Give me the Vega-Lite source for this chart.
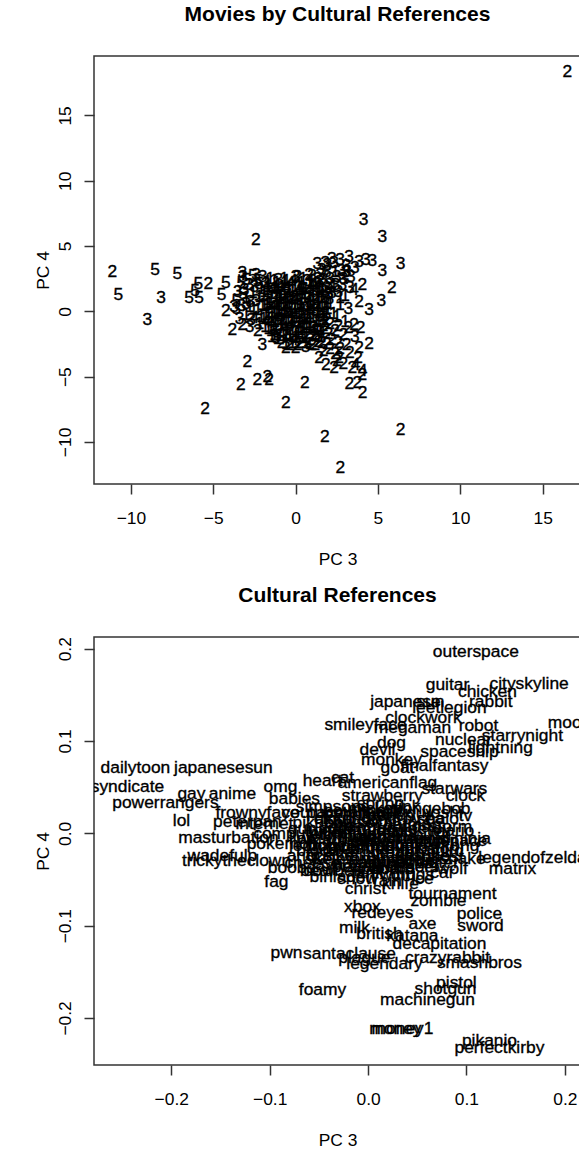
{
  "$schema": "https://vega.github.io/schema/vega-lite/v6.json",
  "background": "white",
  "padding": {"left": 33, "top": 3, "right": 0, "bottom": 0},
  "config": {
    "font": "Liberation Sans",
    "view": {"stroke": "#333333", "strokeWidth": 1.5},
    "concat": {"spacing": 14},
    "title": {"font": "Liberation Sans", "fontSize": 21, "fontWeight": "bold", "color": "black", "baseline": "alphabetic", "offset": 31, "anchor": "middle"},
    "axis": {"grid": false, "domain": false, "ticks": true, "tickSize": 10, "tickColor": "#333333", "tickWidth": 1.5, "labelFont": "Liberation Sans", "labelFontSize": 17.4, "labelColor": "black", "labelFlush": false, "labelOverlap": false, "titleFont": "Liberation Sans", "titleFontSize": 17.4, "titleFontWeight": "normal", "titleColor": "black"},
    "axisX": {"labelBaseline": "alphabetic", "labelPadding": 29, "titleBaseline": "alphabetic", "titleY": 80},
    "axisY": {"labelAngle": -90, "labelAlign": "center", "labelBaseline": "alphabetic", "labelPadding": 14, "titleAngle": -90, "titleBaseline": "alphabetic", "titleX": -46}
  },
  "vconcat": [
    {
      "title": "Movies by Cultural References",
      "width": 487,
      "height": 428,
      "data": {"values": [
        {"pc3":16.5,"pc4":18.32,"cluster":"2"},
        {"pc3":4.13,"pc4":7.0,"cluster":"3"},
        {"pc3":5.27,"pc4":5.66,"cluster":"3"},
        {"pc3":-2.42,"pc4":5.45,"cluster":"2"},
        {"pc3":6.38,"pc4":3.6,"cluster":"3"},
        {"pc3":5.27,"pc4":3.1,"cluster":"3"},
        {"pc3":5.84,"pc4":1.76,"cluster":"2"},
        {"pc3":5.21,"pc4":0.79,"cluster":"3"},
        {"pc3":4.46,"pc4":0.1,"cluster":"3"},
        {"pc3":3.55,"pc4":1.63,"cluster":"4"},
        {"pc3":4.06,"pc4":2.0,"cluster":"2"},
        {"pc3":3.25,"pc4":4.18,"cluster":"3"},
        {"pc3":3.86,"pc4":3.8,"cluster":"3"},
        {"pc3":4.26,"pc4":3.9,"cluster":"3"},
        {"pc3":4.66,"pc4":3.85,"cluster":"3"},
        {"pc3":3.04,"pc4":3.04,"cluster":"3"},
        {"pc3":3.35,"pc4":2.65,"cluster":"3"},
        {"pc3":2.43,"pc4":2.0,"cluster":"3"},
        {"pc3":2.84,"pc4":2.0,"cluster":"3"},
        {"pc3":2.34,"pc4":3.67,"cluster":"3"},
        {"pc3":1.93,"pc4":3.54,"cluster":"3"},
        {"pc3":1.32,"pc4":3.6,"cluster":"3"},
        {"pc3":3.86,"pc4":0.74,"cluster":"2"},
        {"pc3":0.11,"pc4":2.65,"cluster":"2"},
        {"pc3":0.82,"pc4":2.78,"cluster":"2"},
        {"pc3":-11.12,"pc4":3.04,"cluster":"2"},
        {"pc3":-10.76,"pc4":1.25,"cluster":"5"},
        {"pc3":-8.53,"pc4":3.2,"cluster":"5"},
        {"pc3":-7.18,"pc4":2.83,"cluster":"5"},
        {"pc3":-8.17,"pc4":1.0,"cluster":"3"},
        {"pc3":-5.9,"pc4":2.07,"cluster":"5"},
        {"pc3":-5.3,"pc4":2.07,"cluster":"2"},
        {"pc3":-6.47,"pc4":1.0,"cluster":"5"},
        {"pc3":-5.86,"pc4":1.0,"cluster":"5"},
        {"pc3":-6.1,"pc4":1.55,"cluster":"5"},
        {"pc3":-4.24,"pc4":2.2,"cluster":"5"},
        {"pc3":-4.49,"pc4":1.25,"cluster":"5"},
        {"pc3":-3.23,"pc4":2.9,"cluster":"3"},
        {"pc3":-3.2,"pc4":2.6,"cluster":"3"},
        {"pc3":-2.22,"pc4":2.07,"cluster":"5"},
        {"pc3":-4.24,"pc4":0.0,"cluster":"2"},
        {"pc3":-3.73,"pc4":0.36,"cluster":"3"},
        {"pc3":-9.0,"pc4":-0.7,"cluster":"3"},
        {"pc3":-3.84,"pc4":-1.43,"cluster":"2"},
        {"pc3":-3.23,"pc4":-1.05,"cluster":"2"},
        {"pc3":-2.02,"pc4":-2.58,"cluster":"3"},
        {"pc3":-2.93,"pc4":-3.85,"cluster":"2"},
        {"pc3":-3.33,"pc4":-5.64,"cluster":"2"},
        {"pc3":-2.32,"pc4":-5.26,"cluster":"2"},
        {"pc3":-1.71,"pc4":-5.0,"cluster":"2"},
        {"pc3":-1.61,"pc4":-5.26,"cluster":"2"},
        {"pc3":-5.5,"pc4":-7.45,"cluster":"2"},
        {"pc3":0.56,"pc4":-5.47,"cluster":"2"},
        {"pc3":-0.6,"pc4":-7.0,"cluster":"2"},
        {"pc3":1.78,"pc4":-9.59,"cluster":"2"},
        {"pc3":6.37,"pc4":-9.08,"cluster":"2"},
        {"pc3":2.71,"pc4":-12.01,"cluster":"2"},
        {"pc3":3.26,"pc4":-5.57,"cluster":"2"},
        {"pc3":3.75,"pc4":-5.5,"cluster":"2"},
        {"pc3":4.06,"pc4":-4.87,"cluster":"2"},
        {"pc3":4.07,"pc4":-6.25,"cluster":"2"},
        {"pc3":4.07,"pc4":-4.6,"cluster":"4"},
        {"pc3":4.46,"pc4":-2.52,"cluster":"2"},
        {"pc3":3.86,"pc4":-2.83,"cluster":"2"},
        {"pc3":3.55,"pc4":-1.05,"cluster":"2"},
        {"pc3":3.95,"pc4":-1.3,"cluster":"2"},
        {"pc3":1.43,"pc4":-3.6,"cluster":"2"},
        {"pc3":1.83,"pc4":-4.1,"cluster":"2"},
        {"pc3":2.34,"pc4":-4.36,"cluster":"2"},
        {"pc3":2.64,"pc4":-3.6,"cluster":"2"},
        {"pc3":3.45,"pc4":-4.36,"cluster":"2"},
        {"pc3":3.65,"pc4":-4.1,"cluster":"4"},
        {"pc3":0.0,"pc4":-2.83,"cluster":"2"},
        {"pc3":-0.6,"pc4":-2.83,"cluster":"2"},
        {"pc3":-1.2,"pc4":-2.07,"cluster":"3"},
        {"pc3":-1.8,"pc4":2.1,"cluster":"3"},
        {"pc3":-1.3,"pc4":2.3,"cluster":"1"},
        {"pc3":-0.8,"pc4":1.9,"cluster":"1"},
        {"pc3":-0.3,"pc4":2.2,"cluster":"4"},
        {"pc3":0.2,"pc4":2.0,"cluster":"1"},
        {"pc3":0.7,"pc4":2.3,"cluster":"3"},
        {"pc3":1.2,"pc4":2.1,"cluster":"1"},
        {"pc3":1.7,"pc4":2.4,"cluster":"3"},
        {"pc3":-1.9,"pc4":1.5,"cluster":"1"},
        {"pc3":-1.4,"pc4":1.7,"cluster":"4"},
        {"pc3":-0.9,"pc4":1.4,"cluster":"1"},
        {"pc3":-0.4,"pc4":1.6,"cluster":"1"},
        {"pc3":0.1,"pc4":1.5,"cluster":"4"},
        {"pc3":0.6,"pc4":1.7,"cluster":"1"},
        {"pc3":1.1,"pc4":1.5,"cluster":"3"},
        {"pc3":1.6,"pc4":1.6,"cluster":"1"},
        {"pc3":-1.7,"pc4":0.9,"cluster":"1"},
        {"pc3":-1.2,"pc4":1.1,"cluster":"1"},
        {"pc3":-0.7,"pc4":0.8,"cluster":"4"},
        {"pc3":-0.2,"pc4":1.0,"cluster":"1"},
        {"pc3":0.3,"pc4":0.9,"cluster":"1"},
        {"pc3":0.8,"pc4":1.1,"cluster":"1"},
        {"pc3":1.3,"pc4":0.8,"cluster":"4"},
        {"pc3":1.8,"pc4":1.0,"cluster":"3"},
        {"pc3":-1.9,"pc4":0.4,"cluster":"1"},
        {"pc3":-1.4,"pc4":0.3,"cluster":"4"},
        {"pc3":-0.9,"pc4":0.5,"cluster":"1"},
        {"pc3":-0.4,"pc4":0.3,"cluster":"1"},
        {"pc3":0.1,"pc4":0.5,"cluster":"1"},
        {"pc3":0.6,"pc4":0.2,"cluster":"4"},
        {"pc3":1.1,"pc4":0.4,"cluster":"1"},
        {"pc3":1.6,"pc4":0.3,"cluster":"1"},
        {"pc3":-1.8,"pc4":-0.3,"cluster":"1"},
        {"pc3":-1.3,"pc4":-0.1,"cluster":"1"},
        {"pc3":-0.8,"pc4":-0.3,"cluster":"4"},
        {"pc3":-0.3,"pc4":-0.1,"cluster":"1"},
        {"pc3":0.2,"pc4":-0.2,"cluster":"1"},
        {"pc3":0.7,"pc4":-0.4,"cluster":"1"},
        {"pc3":1.2,"pc4":-0.1,"cluster":"4"},
        {"pc3":1.7,"pc4":-0.3,"cluster":"1"},
        {"pc3":-1.6,"pc4":-0.9,"cluster":"4"},
        {"pc3":-1.1,"pc4":-0.7,"cluster":"1"},
        {"pc3":-0.6,"pc4":-0.9,"cluster":"1"},
        {"pc3":-0.1,"pc4":-0.8,"cluster":"1"},
        {"pc3":0.4,"pc4":-0.7,"cluster":"4"},
        {"pc3":0.9,"pc4":-0.9,"cluster":"1"},
        {"pc3":1.4,"pc4":-0.8,"cluster":"1"},
        {"pc3":1.9,"pc4":-0.7,"cluster":"2"},
        {"pc3":-1.5,"pc4":-1.5,"cluster":"1"},
        {"pc3":-1.0,"pc4":-1.3,"cluster":"4"},
        {"pc3":-0.5,"pc4":-1.4,"cluster":"1"},
        {"pc3":0.0,"pc4":-1.6,"cluster":"1"},
        {"pc3":0.5,"pc4":-1.3,"cluster":"1"},
        {"pc3":1.0,"pc4":-1.5,"cluster":"4"},
        {"pc3":1.5,"pc4":-1.4,"cluster":"1"},
        {"pc3":-1.1,"pc4":-2.1,"cluster":"1"},
        {"pc3":-0.6,"pc4":-1.9,"cluster":"1"},
        {"pc3":-0.1,"pc4":-2.2,"cluster":"4"},
        {"pc3":0.4,"pc4":-2.0,"cluster":"1"},
        {"pc3":0.9,"pc4":-2.2,"cluster":"2"},
        {"pc3":1.4,"pc4":-2.0,"cluster":"1"},
        {"pc3":-0.4,"pc4":-2.6,"cluster":"2"},
        {"pc3":0.6,"pc4":-2.7,"cluster":"3"},
        {"pc3":1.2,"pc4":-2.6,"cluster":"2"},
        {"pc3":-0.5,"pc4":0.6,"cluster":"1"},
        {"pc3":0.4,"pc4":1.3,"cluster":"1"},
        {"pc3":-1.0,"pc4":0.0,"cluster":"1"},
        {"pc3":0.9,"pc4":0.6,"cluster":"1"},
        {"pc3":-0.2,"pc4":-0.5,"cluster":"1"},
        {"pc3":0.3,"pc4":-1.1,"cluster":"4"},
        {"pc3":-1.2,"pc4":1.8,"cluster":"1"},
        {"pc3":1.4,"pc4":1.9,"cluster":"1"},
        {"pc3":0.0,"pc4":2.6,"cluster":"3"},
        {"pc3":-0.7,"pc4":2.5,"cluster":"1"},
        {"pc3":1.0,"pc4":2.7,"cluster":"3"},
        {"pc3":1.5,"pc4":2.8,"cluster":"3"},
        {"pc3":2.0,"pc4":2.0,"cluster":"3"},
        {"pc3":2.2,"pc4":1.4,"cluster":"3"},
        {"pc3":2.1,"pc4":0.6,"cluster":"1"},
        {"pc3":2.3,"pc4":-0.2,"cluster":"1"},
        {"pc3":2.1,"pc4":-1.0,"cluster":"2"},
        {"pc3":2.0,"pc4":-1.7,"cluster":"2"},
        {"pc3":-1.55,"pc4":2.45,"cluster":"1"},
        {"pc3":-1.05,"pc4":2.4,"cluster":"3"},
        {"pc3":-0.55,"pc4":2.35,"cluster":"1"},
        {"pc3":0.45,"pc4":2.45,"cluster":"1"},
        {"pc3":0.95,"pc4":2.25,"cluster":"1"},
        {"pc3":1.35,"pc4":2.5,"cluster":"3"},
        {"pc3":-1.65,"pc4":1.85,"cluster":"1"},
        {"pc3":-1.05,"pc4":1.95,"cluster":"1"},
        {"pc3":-0.55,"pc4":1.8,"cluster":"4"},
        {"pc3":-0.05,"pc4":1.9,"cluster":"1"},
        {"pc3":0.45,"pc4":1.85,"cluster":"1"},
        {"pc3":0.95,"pc4":1.9,"cluster":"4"},
        {"pc3":1.45,"pc4":1.75,"cluster":"1"},
        {"pc3":1.9,"pc4":1.8,"cluster":"3"},
        {"pc3":-1.95,"pc4":1.2,"cluster":"1"},
        {"pc3":-1.45,"pc4":1.3,"cluster":"1"},
        {"pc3":-0.95,"pc4":1.15,"cluster":"1"},
        {"pc3":-0.45,"pc4":1.25,"cluster":"4"},
        {"pc3":0.05,"pc4":1.2,"cluster":"1"},
        {"pc3":0.55,"pc4":1.35,"cluster":"1"},
        {"pc3":1.05,"pc4":1.2,"cluster":"1"},
        {"pc3":1.55,"pc4":1.25,"cluster":"4"},
        {"pc3":2.0,"pc4":1.3,"cluster":"3"},
        {"pc3":-1.6,"pc4":0.65,"cluster":"1"},
        {"pc3":-1.15,"pc4":0.7,"cluster":"1"},
        {"pc3":-0.65,"pc4":0.55,"cluster":"1"},
        {"pc3":-0.15,"pc4":0.7,"cluster":"4"},
        {"pc3":0.35,"pc4":0.6,"cluster":"1"},
        {"pc3":0.85,"pc4":0.75,"cluster":"1"},
        {"pc3":1.35,"pc4":0.6,"cluster":"1"},
        {"pc3":1.85,"pc4":0.65,"cluster":"1"},
        {"pc3":-1.55,"pc4":0.05,"cluster":"4"},
        {"pc3":-1.05,"pc4":0.15,"cluster":"1"},
        {"pc3":-0.55,"pc4":0.05,"cluster":"1"},
        {"pc3":-0.05,"pc4":0.2,"cluster":"1"},
        {"pc3":0.45,"pc4":0.1,"cluster":"1"},
        {"pc3":0.95,"pc4":0.0,"cluster":"4"},
        {"pc3":1.45,"pc4":0.1,"cluster":"1"},
        {"pc3":1.95,"pc4":0.15,"cluster":"1"},
        {"pc3":-1.95,"pc4":-0.6,"cluster":"1"},
        {"pc3":-1.45,"pc4":-0.5,"cluster":"1"},
        {"pc3":-0.95,"pc4":-0.55,"cluster":"4"},
        {"pc3":-0.45,"pc4":-0.6,"cluster":"1"},
        {"pc3":0.05,"pc4":-0.45,"cluster":"1"},
        {"pc3":0.55,"pc4":-0.6,"cluster":"1"},
        {"pc3":1.05,"pc4":-0.5,"cluster":"1"},
        {"pc3":1.55,"pc4":-0.55,"cluster":"4"},
        {"pc3":-1.85,"pc4":-1.2,"cluster":"1"},
        {"pc3":-1.35,"pc4":-1.1,"cluster":"1"},
        {"pc3":-0.85,"pc4":-1.05,"cluster":"1"},
        {"pc3":-0.35,"pc4":-1.15,"cluster":"4"},
        {"pc3":0.15,"pc4":-1.3,"cluster":"1"},
        {"pc3":0.65,"pc4":-1.05,"cluster":"1"},
        {"pc3":1.15,"pc4":-1.2,"cluster":"1"},
        {"pc3":1.7,"pc4":-1.1,"cluster":"2"},
        {"pc3":-1.3,"pc4":-1.8,"cluster":"1"},
        {"pc3":-0.85,"pc4":-1.7,"cluster":"4"},
        {"pc3":-0.35,"pc4":-1.8,"cluster":"1"},
        {"pc3":0.15,"pc4":-1.75,"cluster":"1"},
        {"pc3":0.65,"pc4":-1.7,"cluster":"1"},
        {"pc3":1.15,"pc4":-1.8,"cluster":"2"},
        {"pc3":1.65,"pc4":-1.65,"cluster":"1"},
        {"pc3":-0.85,"pc4":-2.4,"cluster":"2"},
        {"pc3":-0.2,"pc4":-2.4,"cluster":"1"},
        {"pc3":0.3,"pc4":-2.45,"cluster":"2"},
        {"pc3":0.85,"pc4":-2.5,"cluster":"1"},
        {"pc3":1.4,"pc4":-2.35,"cluster":"2"},
        {"pc3":-1.7,"pc4":2.25,"cluster":"1"},
        {"pc3":-1.15,"pc4":2.15,"cluster":"1"},
        {"pc3":-0.65,"pc4":2.2,"cluster":"1"},
        {"pc3":-0.15,"pc4":2.3,"cluster":"4"},
        {"pc3":0.35,"pc4":2.2,"cluster":"1"},
        {"pc3":0.85,"pc4":2.1,"cluster":"1"},
        {"pc3":1.45,"pc4":2.25,"cluster":"3"},
        {"pc3":-1.75,"pc4":1.6,"cluster":"1"},
        {"pc3":-1.2,"pc4":1.55,"cluster":"4"},
        {"pc3":-0.7,"pc4":1.65,"cluster":"1"},
        {"pc3":-0.2,"pc4":1.55,"cluster":"1"},
        {"pc3":0.3,"pc4":1.65,"cluster":"1"},
        {"pc3":0.8,"pc4":1.55,"cluster":"4"},
        {"pc3":1.3,"pc4":1.6,"cluster":"1"},
        {"pc3":1.8,"pc4":1.5,"cluster":"3"},
        {"pc3":-1.5,"pc4":1.0,"cluster":"1"},
        {"pc3":-1.0,"pc4":0.95,"cluster":"1"},
        {"pc3":-0.5,"pc4":1.05,"cluster":"1"},
        {"pc3":0.0,"pc4":0.95,"cluster":"4"},
        {"pc3":0.55,"pc4":1.0,"cluster":"1"},
        {"pc3":1.05,"pc4":0.9,"cluster":"1"},
        {"pc3":1.55,"pc4":1.05,"cluster":"1"},
        {"pc3":2.05,"pc4":0.95,"cluster":"3"},
        {"pc3":-1.75,"pc4":0.45,"cluster":"1"},
        {"pc3":-1.25,"pc4":0.5,"cluster":"4"},
        {"pc3":-0.75,"pc4":0.4,"cluster":"1"},
        {"pc3":-0.25,"pc4":0.45,"cluster":"1"},
        {"pc3":0.25,"pc4":0.35,"cluster":"1"},
        {"pc3":0.75,"pc4":0.5,"cluster":"1"},
        {"pc3":1.25,"pc4":0.4,"cluster":"4"},
        {"pc3":1.75,"pc4":0.5,"cluster":"1"},
        {"pc3":-1.65,"pc4":-0.15,"cluster":"1"},
        {"pc3":-1.15,"pc4":-0.2,"cluster":"1"},
        {"pc3":-0.65,"pc4":-0.1,"cluster":"1"},
        {"pc3":-0.15,"pc4":-0.2,"cluster":"4"},
        {"pc3":0.35,"pc4":-0.1,"cluster":"1"},
        {"pc3":0.85,"pc4":-0.2,"cluster":"1"},
        {"pc3":1.35,"pc4":-0.15,"cluster":"1"},
        {"pc3":1.85,"pc4":-0.1,"cluster":"1"},
        {"pc3":-1.75,"pc4":-0.75,"cluster":"4"},
        {"pc3":-1.25,"pc4":-0.8,"cluster":"1"},
        {"pc3":-0.75,"pc4":-0.7,"cluster":"1"},
        {"pc3":-0.25,"pc4":-0.75,"cluster":"1"},
        {"pc3":0.25,"pc4":-0.85,"cluster":"1"},
        {"pc3":0.75,"pc4":-0.7,"cluster":"4"},
        {"pc3":1.25,"pc4":-0.75,"cluster":"1"},
        {"pc3":1.75,"pc4":-0.8,"cluster":"2"},
        {"pc3":-1.65,"pc4":-1.35,"cluster":"1"},
        {"pc3":-1.2,"pc4":-1.4,"cluster":"1"},
        {"pc3":-0.7,"pc4":-1.3,"cluster":"4"},
        {"pc3":-0.2,"pc4":-1.4,"cluster":"1"},
        {"pc3":0.3,"pc4":-1.45,"cluster":"1"},
        {"pc3":0.8,"pc4":-1.3,"cluster":"1"},
        {"pc3":1.3,"pc4":-1.4,"cluster":"1"},
        {"pc3":1.8,"pc4":-1.35,"cluster":"2"},
        {"pc3":-1.45,"pc4":-1.95,"cluster":"1"},
        {"pc3":-0.95,"pc4":-1.9,"cluster":"1"},
        {"pc3":-0.45,"pc4":-2.0,"cluster":"4"},
        {"pc3":0.05,"pc4":-1.95,"cluster":"1"},
        {"pc3":0.55,"pc4":-2.05,"cluster":"1"},
        {"pc3":1.05,"pc4":-1.9,"cluster":"2"},
        {"pc3":1.55,"pc4":-2.0,"cluster":"1"},
        {"pc3":-0.6,"pc4":-2.5,"cluster":"1"},
        {"pc3":0.1,"pc4":-2.55,"cluster":"2"},
        {"pc3":0.6,"pc4":-2.45,"cluster":"1"},
        {"pc3":1.0,"pc4":-2.55,"cluster":"2"},
        {"pc3":-2.3,"pc4":2.3,"cluster":"5"},
        {"pc3":-2.8,"pc4":2.0,"cluster":"3"},
        {"pc3":-3.3,"pc4":2.2,"cluster":"5"},
        {"pc3":-3.5,"pc4":1.5,"cluster":"3"},
        {"pc3":-2.6,"pc4":1.4,"cluster":"1"},
        {"pc3":-3.0,"pc4":1.0,"cluster":"1"},
        {"pc3":-2.4,"pc4":0.8,"cluster":"3"},
        {"pc3":-3.6,"pc4":0.8,"cluster":"5"},
        {"pc3":-2.8,"pc4":0.3,"cluster":"1"},
        {"pc3":-3.3,"pc4":0.4,"cluster":"3"},
        {"pc3":-2.3,"pc4":0.1,"cluster":"1"},
        {"pc3":-3.0,"pc4":-0.3,"cluster":"1"},
        {"pc3":-2.5,"pc4":-0.5,"cluster":"4"},
        {"pc3":-3.4,"pc4":-0.6,"cluster":"3"},
        {"pc3":-2.2,"pc4":-1.0,"cluster":"1"},
        {"pc3":-2.8,"pc4":-1.2,"cluster":"3"},
        {"pc3":-2.6,"pc4":2.7,"cluster":"5"},
        {"pc3":-2.0,"pc4":2.6,"cluster":"3"},
        {"pc3":-2.1,"pc4":1.7,"cluster":"1"},
        {"pc3":-2.5,"pc4":1.9,"cluster":"3"},
        {"pc3":-3.1,"pc4":1.6,"cluster":"3"},
        {"pc3":-2.2,"pc4":1.1,"cluster":"1"},
        {"pc3":-2.75,"pc4":0.7,"cluster":"3"},
        {"pc3":-3.2,"pc4":1.3,"cluster":"5"},
        {"pc3":-2.55,"pc4":0.2,"cluster":"1"},
        {"pc3":-2.1,"pc4":-0.4,"cluster":"1"},
        {"pc3":-2.7,"pc4":-0.7,"cluster":"3"},
        {"pc3":-2.3,"pc4":-1.5,"cluster":"2"},
        {"pc3":-3.0,"pc4":0.6,"cluster":"3"},
        {"pc3":-3.6,"pc4":0.2,"cluster":"3"},
        {"pc3":-2.0,"pc4":0.5,"cluster":"1"},
        {"pc3":-2.4,"pc4":2.8,"cluster":"3"},
        {"pc3":-3.0,"pc4":2.4,"cluster":"5"},
        {"pc3":2.5,"pc4":2.6,"cluster":"3"},
        {"pc3":2.8,"pc4":3.1,"cluster":"3"},
        {"pc3":3.1,"pc4":3.5,"cluster":"3"},
        {"pc3":3.6,"pc4":3.3,"cluster":"3"},
        {"pc3":2.4,"pc4":3.0,"cluster":"1"},
        {"pc3":1.9,"pc4":3.0,"cluster":"3"},
        {"pc3":2.6,"pc4":1.5,"cluster":"3"},
        {"pc3":3.0,"pc4":1.2,"cluster":"1"},
        {"pc3":2.7,"pc4":0.5,"cluster":"1"},
        {"pc3":3.2,"pc4":0.2,"cluster":"3"},
        {"pc3":2.5,"pc4":-0.4,"cluster":"1"},
        {"pc3":3.0,"pc4":-0.8,"cluster":"1"},
        {"pc3":2.2,"pc4":4.0,"cluster":"3"},
        {"pc3":2.7,"pc4":3.9,"cluster":"3"},
        {"pc3":1.6,"pc4":3.2,"cluster":"3"},
        {"pc3":2.1,"pc4":2.5,"cluster":"3"},
        {"pc3":2.9,"pc4":2.5,"cluster":"3"},
        {"pc3":2.3,"pc4":1.9,"cluster":"1"},
        {"pc3":3.3,"pc4":1.8,"cluster":"3"},
        {"pc3":2.7,"pc4":1.0,"cluster":"1"},
        {"pc3":3.1,"pc4":3.0,"cluster":"3"},
        {"pc3":1.8,"pc4":3.7,"cluster":"3"},
        {"pc3":2.4,"pc4":-1.5,"cluster":"2"},
        {"pc3":2.9,"pc4":-1.8,"cluster":"2"},
        {"pc3":2.6,"pc4":-2.4,"cluster":"2"},
        {"pc3":3.1,"pc4":-2.6,"cluster":"2"},
        {"pc3":2.1,"pc4":-2.9,"cluster":"2"},
        {"pc3":2.4,"pc4":-3.3,"cluster":"2"},
        {"pc3":3.3,"pc4":-3.2,"cluster":"2"},
        {"pc3":1.7,"pc4":-3.0,"cluster":"2"},
        {"pc3":3.6,"pc4":-2.0,"cluster":"3"},
        {"pc3":2.9,"pc4":-4.0,"cluster":"2"},
        {"pc3":3.8,"pc4":-3.6,"cluster":"2"},
        {"pc3":1.6,"pc4":-2.4,"cluster":"2"},
        {"pc3":2.2,"pc4":-2.2,"cluster":"2"},
        {"pc3":2.7,"pc4":-2.9,"cluster":"2"},
        {"pc3":1.9,"pc4":-2.5,"cluster":"2"},
        {"pc3":2.5,"pc4":-3.8,"cluster":"2"},
        {"pc3":3.2,"pc4":-1.3,"cluster":"2"},
        {"pc3":2.6,"pc4":-1.1,"cluster":"2"}
      ]},
      "mark": {"type": "text", "fontSize": 17.4, "font": "Liberation Sans", "color": "black", "stroke": "black", "strokeWidth": 0.35, "clip": true},
      "encoding": {
        "x": {"field": "pc3", "type": "quantitative", "scale": {"domain": [-12.24, 17.33], "nice": false, "zero": false}, "axis": {"title": "PC 3", "values": [-10, -5, 0, 5, 10, 15], "format": "d"}},
        "y": {"field": "pc4", "type": "quantitative", "scale": {"domain": [-13.22, 19.55], "nice": false, "zero": false}, "axis": {"title": "PC 4", "values": [-10, -5, 0, 5, 10, 15], "format": "d"}},
        "text": {"field": "cluster", "type": "nominal"}
      }
    },
    {
      "title": "Cultural References",
      "width": 487,
      "height": 428,
      "data": {"values": [
        {"pc3":0.1095,"pc4":0.1967,"ref":"outerspace"},
        {"pc3":0.0807,"pc4":0.1607,"ref":"guitar"},
        {"pc3":0.1637,"pc4":0.1621,"ref":"cityskyline"},
        {"pc3":0.1213,"pc4":0.1531,"ref":"chicken"},
        {"pc3":0.1247,"pc4":0.1423,"ref":"rabbit"},
        {"pc3":0.0380,"pc4":0.1423,"ref":"japanese"},
        {"pc3":0.0634,"pc4":0.1423,"ref":"sun"},
        {"pc3":0.0827,"pc4":0.1358,"ref":"leetlegion"},
        {"pc3":-0.0026,"pc4":0.1173,"ref":"smileyface"},
        {"pc3":0.0451,"pc4":0.1141,"ref":"megaman"},
        {"pc3":0.0563,"pc4":0.1249,"ref":"clockwork"},
        {"pc3":0.1122,"pc4":0.1163,"ref":"robot"},
        {"pc3":0.2047,"pc4":0.1195,"ref":"moon"},
        {"pc3":0.1569,"pc4":0.1054,"ref":"starrynight"},
        {"pc3":0.0970,"pc4":0.1011,"ref":"nuclear"},
        {"pc3":0.1346,"pc4":0.0924,"ref":"lightning"},
        {"pc3":0.0929,"pc4":0.0881,"ref":"spaceship"},
        {"pc3":0.0238,"pc4":0.0978,"ref":"dog"},
        {"pc3":0.0096,"pc4":0.0902,"ref":"devil"},
        {"pc3":0.0238,"pc4":0.0794,"ref":"monkey"},
        {"pc3":0.0299,"pc4":0.0707,"ref":"goat"},
        {"pc3":0.0776,"pc4":0.0729,"ref":"finalfantasy"},
        {"pc3":-0.0260,"pc4":0.0599,"ref":"cat"},
        {"pc3":-0.0463,"pc4":0.0567,"ref":"heart"},
        {"pc3":0.0197,"pc4":0.0545,"ref":"americanflag"},
        {"pc3":-0.0890,"pc4":0.0502,"ref":"omg"},
        {"pc3":0.0878,"pc4":0.0480,"ref":"starwars"},
        {"pc3":0.0990,"pc4":0.0404,"ref":"clock"},
        {"pc3":-0.0748,"pc4":0.0372,"ref":"babies"},
        {"pc3":0.0146,"pc4":0.0404,"ref":"strawberry"},
        {"pc3":0.0126,"pc4":0.0317,"ref":"spring"},
        {"pc3":0.0990,"pc4":0.0187,"ref":"tv"},
        {"pc3":0.0858,"pc4":0.0025,"ref":"mario"},
        {"pc3":0.1061,"pc4":-0.0062,"ref":"ninja"},
        {"pc3":-0.0870,"pc4":-0.0116,"ref":"pokemon"},
        {"pc3":-0.0778,"pc4":-0.0376,"ref":"boobs"},
        {"pc3":-0.0260,"pc4":-0.0474,"ref":"binladen"},
        {"pc3":-0.0931,"pc4":-0.0528,"ref":"fag"},
        {"pc3":-0.0026,"pc4":-0.0604,"ref":"christ"},
        {"pc3":0.0329,"pc4":-0.0550,"ref":"knife"},
        {"pc3":0.0858,"pc4":-0.0658,"ref":"tournament"},
        {"pc3":0.0715,"pc4":-0.0734,"ref":"zombie"},
        {"pc3":-0.0057,"pc4":-0.0799,"ref":"xbox"},
        {"pc3":0.0146,"pc4":-0.0864,"ref":"redeyes"},
        {"pc3":0.1132,"pc4":-0.0875,"ref":"police"},
        {"pc3":0.0553,"pc4":-0.0983,"ref":"axe"},
        {"pc3":0.1142,"pc4":-0.1004,"ref":"sword"},
        {"pc3":-0.0138,"pc4":-0.1026,"ref":"milk"},
        {"pc3":0.0116,"pc4":-0.1091,"ref":"british"},
        {"pc3":0.0451,"pc4":-0.1113,"ref":"katana"},
        {"pc3":0.0726,"pc4":-0.1199,"ref":"decapitation"},
        {"pc3":-0.0829,"pc4":-0.1297,"ref":"pwn"},
        {"pc3":-0.0189,"pc4":-0.1308,"ref":"santaclause"},
        {"pc3":-0.0037,"pc4":-0.1352,"ref":"plague"},
        {"pc3":0.0167,"pc4":-0.1417,"ref":"legendary"},
        {"pc3":0.0807,"pc4":-0.1352,"ref":"crazyrabbit"},
        {"pc3":0.1132,"pc4":-0.1405,"ref":"smashbros"},
        {"pc3":0.0898,"pc4":-0.1622,"ref":"pistol"},
        {"pc3":0.0787,"pc4":-0.1687,"ref":"shotgun"},
        {"pc3":-0.0463,"pc4":-0.1698,"ref":"foamy"},
        {"pc3":0.0604,"pc4":-0.1806,"ref":"machinegun"},
        {"pc3":0.0278,"pc4":-0.2120,"ref":"money"},
        {"pc3":0.0350,"pc4":-0.2120,"ref":"money1"},
        {"pc3":0.1234,"pc4":-0.2250,"ref":"pikanio"},
        {"pc3":0.1335,"pc4":-0.2326,"ref":"perfectkirby"},
        {"pc3":0.1467,"pc4":-0.0386,"ref":"matrix"},
        {"pc3":0.1671,"pc4":-0.0267,"ref":"legendofzelda"},
        {"pc3":-0.2364,"pc4":0.0707,"ref":"dailytoon"},
        {"pc3":-0.1470,"pc4":0.0707,"ref":"japanesesun"},
        {"pc3":-0.2445,"pc4":0.0502,"ref":"syndicate"},
        {"pc3":-0.2059,"pc4":0.0328,"ref":"powerrangers"},
        {"pc3":-0.1795,"pc4":0.0426,"ref":"gay"},
        {"pc3":-0.1378,"pc4":0.0426,"ref":"anime"},
        {"pc3":-0.1124,"pc4":0.0220,"ref":"frownyface"},
        {"pc3":-0.1896,"pc4":0.0133,"ref":"lol"},
        {"pc3":-0.1226,"pc4":0.0122,"ref":"peterpan"},
        {"pc3":-0.1053,"pc4":0.0101,"ref":"internet"},
        {"pc3":-0.1419,"pc4":-0.0051,"ref":"masturbation"},
        {"pc3":-0.0799,"pc4":-0.0008,"ref":"computer"},
        {"pc3":-0.1480,"pc4":-0.0246,"ref":"wadefulp"},
        {"pc3":-0.1337,"pc4":-0.0300,"ref":"trickytheclown"},
        {"pc3":-0.0596,"pc4":-0.0246,"ref":"antics"},
        {"pc3":-0.0362,"pc4":0.0285,"ref":"simpsons"},
        {"pc3":-0.0057,"pc4":0.0242,"ref":"southpark"},
        {"pc3":0.0299,"pc4":0.0220,"ref":"familyguy"},
        {"pc3":0.0604,"pc4":0.0263,"ref":"spongebob"},
        {"pc3":0.0756,"pc4":0.0155,"ref":"halo"},
        {"pc3":-0.0209,"pc4":0.0155,"ref":"nintendo"},
        {"pc3":0.0126,"pc4":0.0133,"ref":"sonic"},
        {"pc3":-0.0463,"pc4":0.0111,"ref":"pikachu"},
        {"pc3":0.0451,"pc4":0.0090,"ref":"batman"},
        {"pc3":-0.0108,"pc4":0.0047,"ref":"superman"},
        {"pc3":0.0248,"pc4":0.0025,"ref":"jesus"},
        {"pc3":-0.0413,"pc4":0.0003,"ref":"hitler"},
        {"pc3":0.0654,"pc4":-0.0018,"ref":"bush"},
        {"pc3":0.0045,"pc4":-0.0040,"ref":"stickman"},
        {"pc3":-0.0260,"pc4":-0.0083,"ref":"madness"},
        {"pc3":0.0400,"pc4":-0.0105,"ref":"pirate"},
        {"pc3":0.0146,"pc4":-0.0138,"ref":"samurai"},
        {"pc3":-0.0159,"pc4":-0.0170,"ref":"lightsaber"},
        {"pc3":0.0553,"pc4":-0.0170,"ref":"explosion"},
        {"pc3":-0.0514,"pc4":-0.0192,"ref":"blood"},
        {"pc3":0.0299,"pc4":-0.0213,"ref":"dragon"},
        {"pc3":-0.0006,"pc4":-0.0246,"ref":"alien"},
        {"pc3":0.0756,"pc4":-0.0257,"ref":"ghost"},
        {"pc3":-0.0311,"pc4":-0.0279,"ref":"skeleton"},
        {"pc3":0.0400,"pc4":-0.0300,"ref":"penguin"},
        {"pc3":0.0096,"pc4":-0.0322,"ref":"banana"},
        {"pc3":-0.0159,"pc4":-0.0365,"ref":"pizza"},
        {"pc3":0.0553,"pc4":-0.0365,"ref":"beer"},
        {"pc3":0.0248,"pc4":-0.0387,"ref":"bomb"},
        {"pc3":-0.0006,"pc4":-0.0430,"ref":"tank"},
        {"pc3":-0.0565,"pc4":0.0220,"ref":"youtube"},
        {"pc3":0.0858,"pc4":-0.0083,"ref":"myspace"},
        {"pc3":0.0146,"pc4":0.0068,"ref":"newgrounds"},
        {"pc3":-0.0209,"pc4":-0.0018,"ref":"tomfulp"},
        {"pc3":0.0350,"pc4":-0.0062,"ref":"chucknorris"},
        {"pc3":-0.0362,"pc4":-0.0138,"ref":"rickroll"},
        {"pc3":0.0604,"pc4":0.0047,"ref":"leeroy"},
        {"pc3":-0.0057,"pc4":-0.0105,"ref":"mrt"},
        {"pc3":0.0248,"pc4":-0.0279,"ref":"vampire"},
        {"pc3":-0.0463,"pc4":-0.0062,"ref":"wizard"},
        {"pc3":0.0756,"pc4":-0.0430,"ref":"car"},
        {"pc3":-0.0667,"pc4":0.0047,"ref":"gun"},
        {"pc3":0.0451,"pc4":-0.0452,"ref":"drugs"},
        {"pc3":-0.0362,"pc4":-0.0409,"ref":"cowbell"},
        {"pc3":-0.0006,"pc4":0.0198,"ref":"homer"},
        {"pc3":0.0350,"pc4":0.0155,"ref":"kirby"},
        {"pc3":0.0553,"pc4":-0.0246,"ref":"sasuke"},
        {"pc3":-0.0108,"pc4":-0.0322,"ref":"naruto"},
        {"pc3":0.0197,"pc4":-0.0040,"ref":"godzilla"},
        {"pc3":-0.0260,"pc4":0.0068,"ref":"tetris"},
        {"pc3":-0.0667,"pc4":-0.0138,"ref":"jedi"},
        {"pc3":0.0654,"pc4":-0.0138,"ref":"donkeykong"},
        {"pc3":-0.0565,"pc4":-0.0322,"ref":"cheese"},
        {"pc3":-0.0311,"pc4":0.0220,"ref":"pacman"},
        {"pc3":0.0065,"pc4":0.0263,"ref":"mickey"},
        {"pc3":0.0400,"pc4":0.0285,"ref":"link"},
        {"pc3":0.0756,"pc4":0.0220,"ref":"yoshi"},
        {"pc3":-0.0484,"pc4":0.0025,"ref":"luigi"},
        {"pc3":-0.0159,"pc4":0.0112,"ref":"bowser"},
        {"pc3":0.0228,"pc4":0.0187,"ref":"peach"},
        {"pc3":0.0533,"pc4":-0.0062,"ref":"metroid"},
        {"pc3":-0.0057,"pc4":-0.0149,"ref":"contra"},
        {"pc3":0.0299,"pc4":-0.0138,"ref":"doom"},
        {"pc3":-0.0382,"pc4":-0.0246,"ref":"quake"},
        {"pc3":0.0451,"pc4":-0.0192,"ref":"portal"},
        {"pc3":0.0126,"pc4":-0.0213,"ref":"lie"},
        {"pc3":-0.0209,"pc4":-0.0213,"ref":"fire"},
        {"pc3":0.0705,"pc4":-0.0322,"ref":"water"},
        {"pc3":-0.0057,"pc4":-0.0365,"ref":"earth"},
        {"pc3":0.0299,"pc4":-0.0452,"ref":"wind"},
        {"pc3":-0.0413,"pc4":-0.0343,"ref":"lava"},
        {"pc3":0.0553,"pc4":-0.0495,"ref":"ice"},
        {"pc3":-0.0108,"pc4":-0.0495,"ref":"snow"},
        {"pc3":0.0197,"pc4":-0.0517,"ref":"rain"},
        {"pc3":0.0837,"pc4":0.0068,"ref":"storm"},
        {"pc3":-0.0341,"pc4":0.0155,"ref":"cloud"},
        {"pc3":-0.0006,"pc4":0.0003,"ref":"thunder"},
        {"pc3":0.0370,"pc4":0.0025,"ref":"sky"},
        {"pc3":0.0634,"pc4":0.0155,"ref":"sea"},
        {"pc3":-0.0240,"pc4":-0.0149,"ref":"river"},
        {"pc3":0.0065,"pc4":-0.0084,"ref":"tree"},
        {"pc3":0.0502,"pc4":-0.0300,"ref":"flower"},
        {"pc3":0.0248,"pc4":-0.0322,"ref":"grass"},
        {"pc3":-0.0138,"pc4":-0.0040,"ref":"rock"},
        {"pc3":0.0146,"pc4":-0.0387,"ref":"paper"},
        {"pc3":0.0400,"pc4":-0.0365,"ref":"scissors"},
        {"pc3":0.0827,"pc4":-0.0192,"ref":"bird"},
        {"pc3":-0.0463,"pc4":-0.0138,"ref":"frog"},
        {"pc3":0.0959,"pc4":-0.0279,"ref":"snake"},
        {"pc3":0.0726,"pc4":-0.0084,"ref":"tiger"},
        {"pc3":-0.0667,"pc4":-0.0062,"ref":"lion"},
        {"pc3":-0.0514,"pc4":-0.0409,"ref":"bear"},
        {"pc3":0.0858,"pc4":-0.0387,"ref":"wolf"}
      ]},
      "mark": {"type": "text", "fontSize": 17.4, "font": "Liberation Sans", "color": "black", "stroke": "black", "strokeWidth": 0.35, "clip": true},
      "encoding": {
        "x": {"field": "pc3", "type": "quantitative", "scale": {"domain": [-0.2785, 0.2164], "nice": false, "zero": false}, "axis": {"title": "PC 3", "values": [-0.2, -0.1, 0, 0.1, 0.2], "format": ".1f"}},
        "y": {"field": "pc4", "type": "quantitative", "scale": {"domain": [-0.251, 0.2127], "nice": false, "zero": false}, "axis": {"title": "PC 4", "values": [-0.2, -0.1, 0, 0.1, 0.2], "format": ".1f"}},
        "text": {"field": "ref", "type": "nominal"}
      }
    }
  ]
}
